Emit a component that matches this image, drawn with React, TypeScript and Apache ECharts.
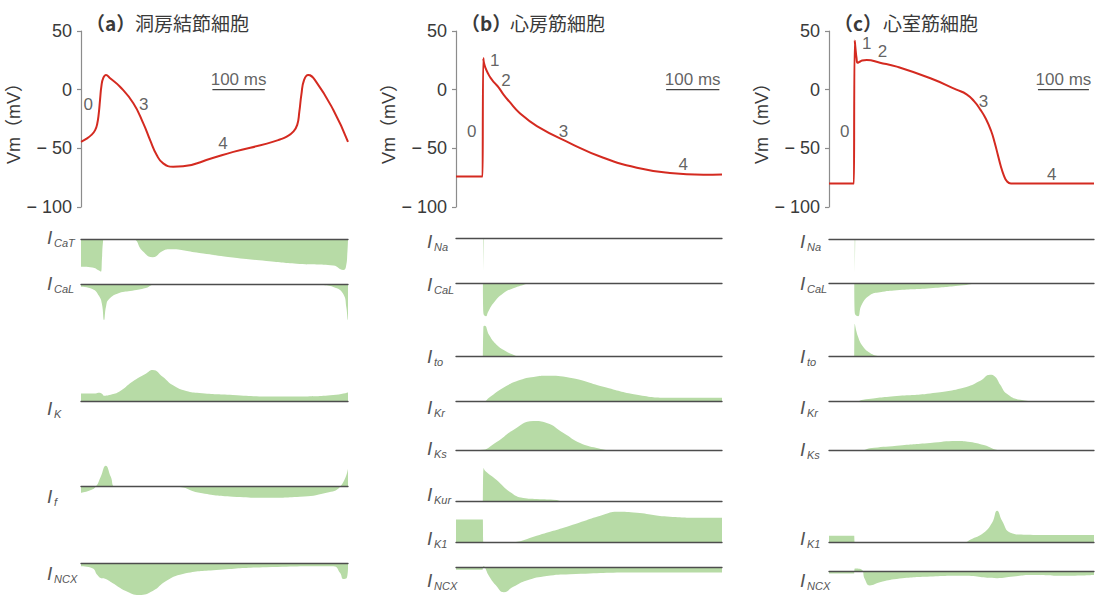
import React, { useEffect, useRef } from "react";
import * as echarts from "echarts";

// ---------- Membrane potential (ms, mV) ----------
const vmA = [[0,-44.5],[10,-42],[20,-38.5],[27,-34.5],[31,-29],[34,-20],[36.5,-8],[39,3],[42.6,10],[47.8,12.5],[55,10],[74.5,2.5],[100,-11.6],[119,-28.7],[132,-43],[144.6,-55.7],[157,-62.8],[176,-65.7],[195,-65.3],[250,-58.5],[291,-53],[355,-46],[380,-42.5],[393,-40],[405.5,-35.8],[413,-30],[417,-19],[421,-4],[426,8.2],[434,12.5],[447,8.2],[482,-17.3],[510,-44.4]];
const vmB = [[0,-74],[50,-74],[51,-74],[51.3,26.7],[52.5,23],[55,19],[60,14],[65,10],[72,6],[80,2],[89,-4],[100,-10],[120,-20],[152,-31],[214,-45.5],[277,-58],[340,-66.5],[402,-71],[465,-72.5],[500,-72.3]];
const vmC = [[0,-80],[49,-80],[50,-80],[50.5,42],[52,35],[54,27],[56,23],[59,23.5],[65,24.8],[74,25.3],[100,23],[133,19.6],[199,9.7],[250,0],[270,-4],[285,-10],[297,-17],[308,-25],[318,-35],[325,-45],[331,-55],[337,-65],[343,-73],[349,-78],[357,-80],[365,-80],[520,-80]];

const vmTicks = [-100, -50, 0, 50];

// phase labels [text, ms, mV]
const phasesA = [["0",14,-13],["3",120,-13],["4",271,-45.7]];
const phasesB = [["1",73,24.5],["2",94,7.6],["0",29.5,-36],["3",202,-36],["4",427,-64]];
const phasesC = [["1",74,39.5],["2",105,32.4],["0",31,-36],["3",303,-10],["4",437,-72.7]];

// 100 ms scale bars [start, end] ms
const barA = [251, 351];
const barB = [395, 495];
const barC = [410, 510];

// ---------- Ionic currents (ms, relative units) ----------
const aCaT = [[0,-27.7],[21.7,-28.5],[34.5,-31.5],[38,-32.7],[40,-20],[42,-3],[44,0],[98,0],[117.5,-12],[137,-18.3],[156,-12],[169,-10.3],[226,-14],[290,-18.5],[354,-22],[418,-25],[482,-26.5],[501,-31],[506,-28],[509,-12],[510,0]];
const aCaL = [[0,-2.7],[21.7,-5],[34.5,-12],[40,-20],[44,-36],[48,-22],[53.7,-15],[72.8,-9],[98,-6.7],[123.8,-4],[143,0],[430,0],[460,-1],[482,-3],[501,-10],[507,-24],[509.5,-36],[510,-30]];
const aK = [[0,8.3],[28,8.3],[34.5,9],[40,8],[44,6],[53.7,6.7],[72.8,10],[98,20],[123.8,28],[137,31.7],[156,25],[175,16.7],[201,10.7],[226,8.7],[290,6.7],[354,5.3],[418,5.3],[482,6.7],[510,9.3]];
const aF = [[0,-6],[15.3,-4],[28,0],[37.7,10],[47.3,21],[56.9,10],[66.5,0],[181.5,0],[226,-6],[290,-10],[354,-11],[418,-10],[469,-6],[495,0],[510,18]];
const aNCX = [[0,-3],[21.7,-5],[31.3,-12],[37.7,-15],[47.3,-16],[60,-20],[85.6,-28],[111,-32],[137,-28],[162.5,-18],[194.5,-11],[258.4,-7],[354,-4],[482,-3],[495,-10],[501,-16],[507.5,-15],[510,-5]];

const bNa = [[0,0],[51,0],[51.3,-33],[52.5,-33],[52.8,0],[500,0]];
const bCaL = [[0,0],[50.5,0],[51,0],[51.5,-30],[56.4,-33],[60,-29],[70.2,-20],[88.9,-10],[107.7,-5],[126.5,-1.7],[139,0],[500,0]];
const bTo = [[0,0],[50.5,0],[51,0],[51.5,30],[54,31],[62,22],[74.5,13],[88.9,7],[107.7,2],[120,0],[500,0]];
const bKr = [[0,0],[51,0],[62,4],[88.9,14],[120,21.7],[151,25.3],[170,26],[214,24],[277,15],[340,7],[402,4],[465,4],[500,4]];
const bKs = [[0,0],[45,0],[76.4,8],[107.7,20],[145.4,29],[170.5,27],[202,17],[233.3,7],[264.6,2],[289.7,0],[500,0]];
const bKur = [[0,0],[50.5,0],[51,0],[52,33],[55,30],[76.4,21],[101.5,9],[126.5,3],[151.6,2],[189,1],[196,0],[500,0]];
const bK1 = [[0,23.3],[50.5,23.3],[51,23.3],[51.5,0],[52,0],[100,0],[107.7,0.3],[151.6,7],[214,17],[277,28],[302,31],[340,30],[402,26],[465,25],[500,25]];
const bNCX = [[0,-3],[50,-3],[51,-3],[52,1],[54,0],[62,-10],[74.5,-20],[90,-28],[107.7,-22],[132.7,-15],[170.5,-10],[214,-8],[340,-6],[500,-6]];

const cNa = [[0,0],[50,0],[50.3,-34],[51.5,-34],[51.8,0],[520,0]];
const cCaL = [[0,0],[49.5,0],[50,0],[50.6,-30],[57,-33],[63.6,-22],[80,-12],[100,-9],[133,-7],[198.5,-5],[264,-2],[297,0],[520,0]];
const cTo = [[0,0],[49.5,0],[50,0],[50.6,33],[57,20],[67,10],[80,4],[93.3,1],[106.5,0],[520,0]];
const cKr = [[0,0],[50.6,0],[67,2],[133,5.7],[198.5,8.3],[264,14],[297,21],[316,27],[326,25],[336,17],[349,8],[375.6,2],[428,0],[520,0]];
const cKs = [[0,0],[67,0],[80,1.7],[133,4.3],[198.5,7],[251,9],[277,8],[303.6,5],[336,0],[520,0]];
const cK1 = [[0,7],[49.5,7],[50,7],[50.6,0],[51.2,0],[264,0],[277,3],[303.6,10],[320,20],[330,32],[339.6,22],[356,10],[382,8],[461,7.7],[520,7.7]];
const cNCX = [[0,-3],[49.5,-3],[50,-3],[50.6,3],[63.6,2],[70.2,-10],[80,-18],[100,-14],[133,-10],[198.5,-7],[264,-6],[330,-9],[362,-7],[395,-5],[461,-6],[520,-5]];

// ---------- layout & style ----------
const FONT = '"Liberation Sans", "Noto Sans CJK JP", Arial, sans-serif';
const CJK = '"Noto Sans CJK JP", "Liberation Sans", sans-serif';
const RED = "#d42a20";
const GREEN = "#b7dba6";
const TXT = "#3a3a3a";

const columns = [
  { title: "（a）", name: "洞房結節細胞", titleX: 86, left: 81, width: 267, max: 510, labelX: 47,
    vm: vmA, phases: phasesA, bar: barA,
    currents: [
      { sub: "CaT", data: aCaT, base: 239, ly: 237 },
      { sub: "CaL", data: aCaL, base: 284, ly: 283 },
      { sub: "K", data: aK, base: 401.7, ly: 408 },
      { sub: "f", data: aF, base: 486.7, ly: 496 },
      { sub: "NCX", data: aNCX, base: 563.3, ly: 573 },
    ] },
  { title: "（b）", name: "心房筋細胞", titleX: 461, left: 456, width: 266, max: 500, labelX: 427,
    vm: vmB, phases: phasesB, bar: barB,
    currents: [
      { sub: "Na", data: bNa, base: 238.3, ly: 241, pale: true },
      { sub: "CaL", data: bCaL, base: 283.3, ly: 284 },
      { sub: "to", data: bTo, base: 356.7, ly: 356 },
      { sub: "Kr", data: bKr, base: 401.7, ly: 407 },
      { sub: "Ks", data: bKs, base: 450, ly: 448 },
      { sub: "Kur", data: bKur, base: 501, ly: 494 },
      { sub: "K1", data: bK1, base: 542.7, ly: 538 },
      { sub: "NCX", data: bNCX, base: 571, ly: 580 },
    ] },
  { title: "（c）", name: "心室筋細胞", titleX: 834, left: 829, width: 265, max: 520, labelX: 800,
    vm: vmC, phases: phasesC, bar: barC,
    currents: [
      { sub: "Na", data: cNa, base: 239, ly: 241, pale: true },
      { sub: "CaL", data: cCaL, base: 283.3, ly: 283 },
      { sub: "to", data: cTo, base: 356.7, ly: 356 },
      { sub: "Kr", data: cKr, base: 401.7, ly: 407 },
      { sub: "Ks", data: cKs, base: 450, ly: 449 },
      { sub: "K1", data: cK1, base: 542.7, ly: 538 },
      { sub: "NCX", data: cNCX, base: 579, ly: 580 },
    ] },
];

function buildOption() {
  const grid: any[] = [];
  const xAxis: any[] = [];
  const yAxis: any[] = [];
  const series: any[] = [];
  const graphic: any[] = [];

  columns.forEach((col) => {
    const g = grid.length;
    grid.push({ left: col.left, top: 31, width: col.width, height: 176 });
    xAxis.push({ gridIndex: g, type: "value", min: 0, max: col.max, show: false });
    yAxis.push({
      gridIndex: g, type: "value", min: vmTicks[0], max: vmTicks[vmTicks.length - 1], interval: 50,
      axisLine: { show: true, lineStyle: { color: "#8c8c8c", width: 1.2 } },
      axisTick: { show: true, length: 4, lineStyle: { color: "#8c8c8c", width: 1.2 } },
      splitLine: { show: false },
      axisLabel: { fontSize: 18, color: TXT, fontFamily: FONT, margin: 9,
        formatter: (v: number) => (v < 0 ? "− " + Math.abs(v) : String(v)) },
      name: "Vm（mV）", nameLocation: "middle", nameGap: 52,
      nameTextStyle: { fontSize: 18, color: TXT, fontFamily: FONT },
    });
    series.push({
      type: "line", xAxisIndex: g, yAxisIndex: g, data: col.vm, symbol: "none",
      smooth: 0.5, lineStyle: { color: RED, width: 2 }, z: 4,
    });
    series.push({
      type: "line", xAxisIndex: g, yAxisIndex: g, data: [[col.bar[0], 0], [col.bar[1], 0]],
      symbol: "none", lineStyle: { color: "#444", width: 1.3 },
    });
    series.push({
      type: "scatter", xAxisIndex: g, yAxisIndex: g, symbolSize: 0, silent: true,
      data: [{ value: [(col.bar[0] + col.bar[1]) / 2, 9], name: "100 ms" }].concat(
        col.phases.map((p: any) => ({ value: [p[1], p[2]], name: p[0] }))
      ),
      label: { show: true, position: "inside", formatter: "{b}", fontSize: 17, color: TXT, fontFamily: FONT },
    });

    graphic.push({ type: "text", x: col.titleX, y: 22,
      style: { text: col.title, font: `bold 19px ${CJK}`, fill: TXT, align: "left", verticalAlign: "middle" } });
    graphic.push({ type: "text", x: col.titleX + 49, y: 22,
      style: { text: col.name, font: `19px ${CJK}`, fill: TXT, align: "left", verticalAlign: "middle" } });

    col.currents.forEach((c: any) => {
      const gi = grid.length;
      grid.push({ left: col.left, top: c.base - 40, width: col.width, height: 80 });
      xAxis.push({
        gridIndex: gi, type: "value", min: 0, max: col.max, z: 5,
        axisLine: { show: true, onZero: true, lineStyle: { color: "#4d4d4d", width: 1.3 } },
        axisTick: { show: false }, axisLabel: { show: false }, splitLine: { show: false },
      });
      yAxis.push({ gridIndex: gi, type: "value", min: -40, max: 40, show: false, splitLine: { show: false } });
      series.push({
        type: "line", xAxisIndex: gi, yAxisIndex: gi, data: c.data, symbol: "none",
        smooth: c.pale ? false : 0.5,
        lineStyle: { width: 0 }, areaStyle: { color: c.pale ? "#d3e9c9" : GREEN, opacity: 1 },
      });
      graphic.push({ type: "text", x: col.labelX, y: c.ly,
        style: { text: "I", font: `italic 19px ${FONT}`, fill: "#555", align: "left", verticalAlign: "middle" } });
      graphic.push({ type: "text", x: col.labelX + 7, y: c.ly + 6,
        style: { text: c.sub, font: `italic 11px ${FONT}`, fill: "#555", align: "left", verticalAlign: "middle" } });
    });
  });

  return { animation: false, backgroundColor: "#ffffff", grid, xAxis, yAxis, series, graphic };
}

export default function App() {
  const ref = useRef<HTMLDivElement>(null);
  useEffect(() => {
    const chart = echarts.init(ref.current as HTMLDivElement, null, { renderer: "svg" });
    chart.setOption(buildOption() as any);
    return () => chart.dispose();
  }, []);
  return <div ref={ref} style={{ position: "absolute", left: 0, top: 0, width: 1099, height: 603 }} />;
}
